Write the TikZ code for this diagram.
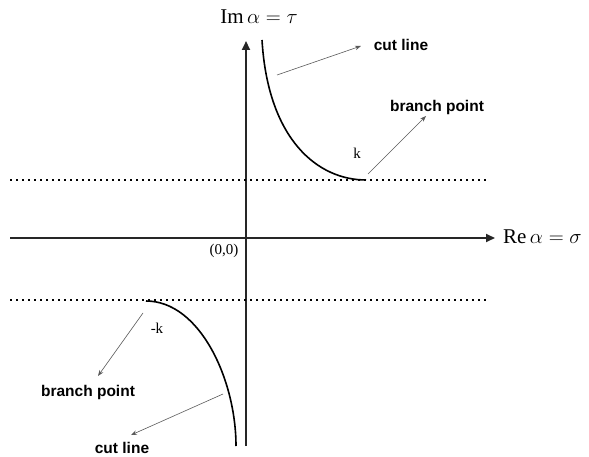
\documentclass[tikz,border=0pt]{standalone}
\usepackage{fontspec}
\setmainfont{Liberation Serif}
\setsansfont{Liberation Sans}
\usetikzlibrary{arrows.meta}
\begin{document}
\begin{tikzpicture}[x=1pt,y=-1pt,
  axis/.style={line width=2.2pt,draw=black!85,-{Triangle[length=9pt,width=8pt]}},
  dotline/.style={line width=2.2pt,dash pattern=on 2pt off 4pt},
  cutcurve/.style={line width=1.6pt},
  pointer/.style={line width=0.6pt,draw=black!65,-{Stealth[length=6pt,width=4.5pt]}},
  lbl/.style={font=\fontsize{15.5}{18}\selectfont\sffamily\bfseries,inner sep=0pt},
  mlbl/.style={font=\fontsize{21}{24}\selectfont,inner sep=0pt},
  slbl/.style={font=\fontsize{15}{18}\selectfont,inner sep=0pt}]
\useasboundingbox (0,0) rectangle (589,457);
% axes
\coordinate (xs) at (10,238);
\coordinate (xe) at (495,238);
\coordinate (ys) at (246,446);
\coordinate (ye) at (246,41);
\draw[axis] (xs) -- (xe);
\draw[axis] (ys) -- (ye);
% dotted lines
\coordinate (d1s) at (10,180);
\coordinate (d1e) at (488,180);
\coordinate (d2s) at (10,300);
\coordinate (d2e) at (488,300);
\draw[dotline] (d1s) -- (d1e);
\draw[dotline] (d2s) -- (d2e);
% cut curves
\coordinate (ct) at (262,40);
\coordinate (kp) at (366,180);
\draw[cutcurve] (ct) .. controls (268,140) and (318,180) .. (kp);
\coordinate (mk) at (146,301);
\coordinate (cb) at (236,446);
\draw[cutcurve] (mk) .. controls (200,301) and (236,380) .. (cb);
% labels
\node[mlbl,anchor=west] (re) at (503,237) {$\mathrm{Re}\,\alpha=\sigma$};
\node[mlbl] (im) at (259,17) {$\mathrm{Im}\,\alpha=\tau$};
\node[slbl] (org) at (224,251) {(0,0)};
\node[slbl] (k) at (357,153) {k};
\node[slbl] (mkl) at (157,328) {-k};
\node[lbl] (bp1) at (437,107) {branch point};
\node[lbl] (cl1) at (401,45) {cut line};
\node[lbl] (bp2) at (88,392) {branch point};
\node[lbl] (cl2) at (122,448) {cut line};
% pointers
\coordinate (p1s) at (277,75);
\coordinate (p1e) at (361,46);
\draw[pointer] (p1s) -- (p1e);
\coordinate (p2s) at (368,174);
\coordinate (p2e) at (426,116);
\draw[pointer] (p2s) -- (p2e);
\coordinate (p3s) at (143,313);
\coordinate (p3e) at (98,376);
\draw[pointer] (p3s) -- (p3e);
\coordinate (p4s) at (223,394);
\coordinate (p4e) at (131,435);
\draw[pointer] (p4s) -- (p4e);
\end{tikzpicture}
\end{document}
